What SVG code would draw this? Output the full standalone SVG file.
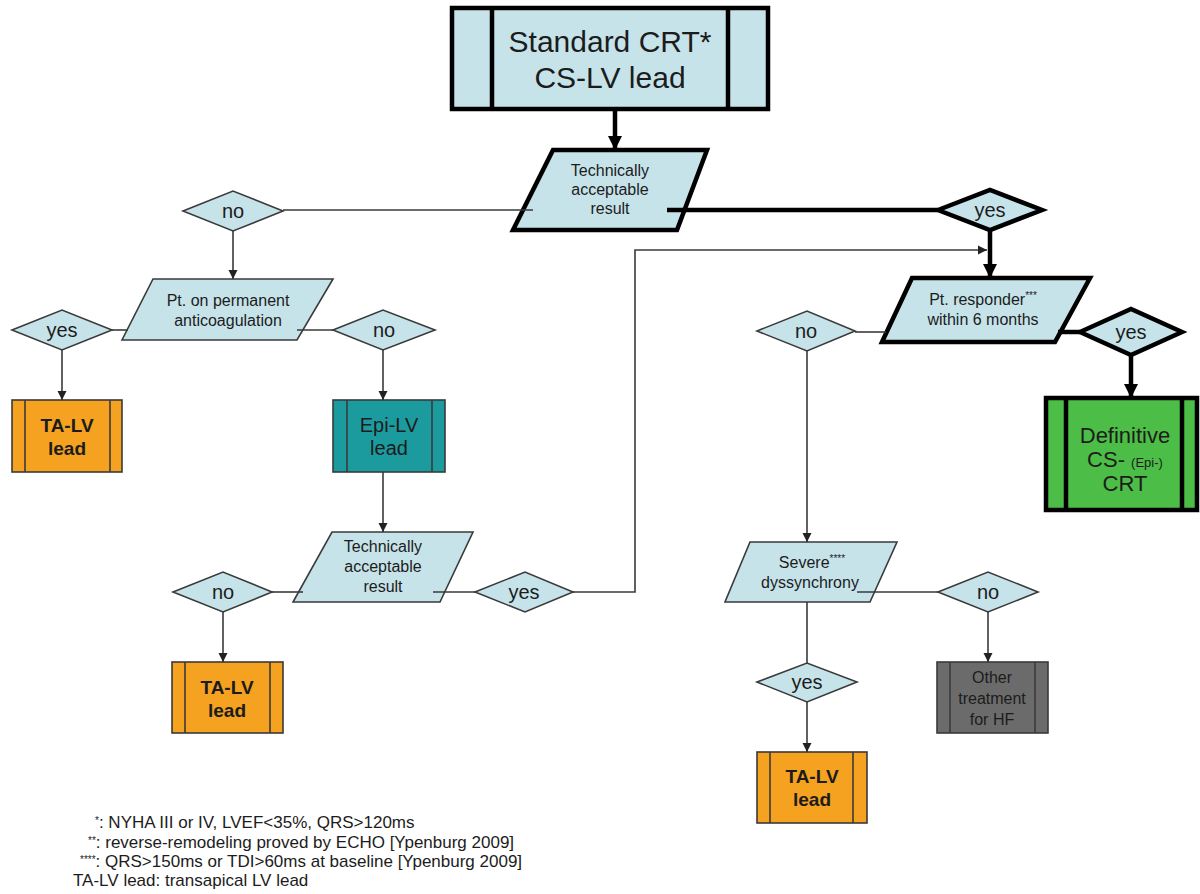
<svg xmlns="http://www.w3.org/2000/svg" width="1200" height="894" viewBox="0 0 1200 894">
<defs>
<style>
text{font-family:"Liberation Sans",Arial,sans-serif;fill:#1c1c1c;text-anchor:middle}
.lb{fill:#c6e3ea}
.thin{stroke:#3a3a3a;stroke-width:1.6}
.thick{stroke:#000;stroke-width:4.5}
.wire{fill:none;stroke:#3a3a3a;stroke-width:1.6}
.wireb{fill:none;stroke:#000;stroke-width:4.5}
.p{font-size:16px}
.d{font-size:20px}
.bx{font-size:19px;font-weight:bold}
.fn{font-size:17px;text-anchor:start}
.sup{font-size:10px;fill:#1c1c1c}
</style>
<marker id="ah" viewBox="0 0 10 10" refX="10" refY="5" markerWidth="9" markerHeight="10" markerUnits="userSpaceOnUse" orient="auto"><path d="M0,0 L10,5 L0,10 z" fill="#222"/></marker>
<marker id="ahb" viewBox="0 0 10 10" refX="10" refY="5" markerWidth="14" markerHeight="16" markerUnits="userSpaceOnUse" orient="auto"><path d="M0,0 L10,5 L0,10 z" fill="#000"/></marker>
</defs>
<rect width="1200" height="894" fill="#fff"/>

<g id="start">
<rect x="452" y="8" width="316" height="101" class="lb thick"/>
<line x1="492" y1="8" x2="492" y2="109" class="thick"/>
<line x1="728" y1="8" x2="728" y2="109" class="thick"/>
<text x="610" y="52" font-size="30">Standard CRT*</text>
<text x="610" y="88" font-size="30">CS-LV lead</text>
</g>

<g id="tech1">
<polygon points="553,150 707,150 677,230 513,230" class="lb thick"/>
<text class="p" x="610" y="176">Technically</text>
<text class="p" x="610" y="195">acceptable</text>
<text class="p" x="610" y="214">result</text>
</g>

<g id="no1">
<polygon points="183,211 233,191 283,211 233,231" class="lb thin"/>
<text class="d" x="233" y="218">no</text>
</g>

<g id="yes1">
<polygon points="938,210 990,190 1042,210 990,230" class="lb thick"/>
<text class="d" x="990" y="217">yes</text>
</g>

<g id="anticoag">
<polygon points="153,279 333,279 297,340 122,340" class="lb thin"/>
<text class="p" x="228" y="306">Pt. on permanent</text>
<text class="p" x="228" y="326">anticoagulation</text>
</g>

<g id="yes2">
<polygon points="12,330 62,310 112,330 62,350" class="lb thin"/>
<text class="d" x="62" y="337">yes</text>
</g>

<g id="no2">
<polygon points="333,330 383,310 435,330 383,350" class="lb thin"/>
<text class="d" x="384" y="337">no</text>
</g>

<g id="talv1">
<rect x="12" y="400" width="110" height="72" fill="#f4a21f" class="thin"/>
<line x1="25" y1="400" x2="25" y2="472" class="thin"/>
<line x1="110" y1="400" x2="110" y2="472" class="thin"/>
<text class="bx" x="67" y="432">TA-LV</text>
<text class="bx" x="67" y="455">lead</text>
</g>

<g id="epilv">
<rect x="333" y="400" width="112" height="72" fill="#1c9b9f" class="thin"/>
<line x1="347" y1="400" x2="347" y2="472" class="thin"/>
<line x1="432" y1="400" x2="432" y2="472" class="thin"/>
<text x="389" y="432" font-size="20">Epi-LV</text>
<text x="389" y="455" font-size="20">lead</text>
</g>

<g id="tech2">
<polygon points="332,532 473,532 440,602 293,602" class="lb thin"/>
<text class="p" x="383" y="552">Technically</text>
<text class="p" x="383" y="572">acceptable</text>
<text class="p" x="383" y="592">result</text>
</g>

<g id="no3">
<polygon points="173,592 223,572 272,592 223,612" class="lb thin"/>
<text class="d" x="223" y="599">no</text>
</g>

<g id="yes3">
<polygon points="475,592 525,572 573,592 525,612" class="lb thin"/>
<text class="d" x="524" y="599">yes</text>
</g>

<g id="talv2">
<rect x="172" y="662" width="111" height="71" fill="#f4a21f" class="thin"/>
<line x1="185" y1="662" x2="185" y2="733" class="thin"/>
<line x1="270" y1="662" x2="270" y2="733" class="thin"/>
<text class="bx" x="227" y="694">TA-LV</text>
<text class="bx" x="227" y="717">lead</text>
</g>

<g id="responder">
<polygon points="912,278 1090,278 1055,342 882,342" class="lb thick"/>
<text class="p" x="983" y="305">Pt. responder<tspan class="sup" dy="-6">***</tspan></text>
<text class="p" x="983" y="325">within 6 months</text>
</g>

<g id="no4">
<polygon points="757,331 807,311 855,331 807,351" class="lb thin"/>
<text class="d" x="806" y="338">no</text>
</g>

<g id="yes4">
<polygon points="1080,332 1131,309 1182,332 1131,355" class="lb thick"/>
<text class="d" x="1131" y="339">yes</text>
</g>

<g id="definitive">
<rect x="1046" y="398" width="151" height="112" fill="#4cbd46" class="thick"/>
<line x1="1066" y1="398" x2="1066" y2="510" class="thick"/>
<line x1="1182" y1="398" x2="1182" y2="510" class="thick"/>
<text x="1125" y="443" font-size="22">Definitive</text>
<text x="1125" y="467" font-size="22">CS- <tspan font-size="13">(Epi-)</tspan></text>
<text x="1125" y="491" font-size="22">CRT</text>
</g>

<g id="severe">
<polygon points="750,542 897,542 870,602 725,602" class="lb thin"/>
<text class="p" x="812" y="568">Severe<tspan class="sup" dy="-6">****</tspan></text>
<text class="p" x="810" y="588">dyssynchrony</text>
</g>

<g id="no5">
<polygon points="938,592 988,572 1038,592 988,612" class="lb thin"/>
<text class="d" x="988" y="599">no</text>
</g>

<g id="yes5">
<polygon points="757,682 807,663 857,682 807,702" class="lb thin"/>
<text class="d" x="807" y="689">yes</text>
</g>

<g id="other">
<rect x="937" y="662" width="111" height="71" fill="#6b6b6b" class="thin"/>
<line x1="950" y1="662" x2="950" y2="733" class="thin"/>
<line x1="1035" y1="662" x2="1035" y2="733" class="thin"/>
<text x="992" y="683" font-size="16">Other</text>
<text x="992" y="704" font-size="16">treatment</text>
<text x="992" y="725" font-size="16">for HF</text>
</g>

<g id="talv3">
<rect x="757" y="752" width="110" height="71" fill="#f4a21f" class="thin"/>
<line x1="770" y1="752" x2="770" y2="823" class="thin"/>
<line x1="853" y1="752" x2="853" y2="823" class="thin"/>
<text class="bx" x="812" y="783">TA-LV</text>
<text class="bx" x="812" y="806">lead</text>
</g>

<g id="connectors">
<path class="wireb" d="M615,110 L615,150" marker-end="url(#ahb)"/>
<path class="wire" d="M533,210 L283,210"/>
<path class="wire" d="M233,231 L233,279" marker-end="url(#ah)"/>
<path class="wireb" d="M667,210 L938,210"/>
<path class="wireb" d="M990,230 L990,278" marker-end="url(#ahb)"/>
<path class="wire" d="M128,330 L112,330"/>
<path class="wire" d="M297,330 L333,330"/>
<path class="wire" d="M62,350 L62,400" marker-end="url(#ah)"/>
<path class="wire" d="M383,350 L383,400" marker-end="url(#ah)"/>
<path class="wire" d="M383,472 L383,532" marker-end="url(#ah)"/>
<path class="wire" d="M303,592 L272,592"/>
<path class="wire" d="M223,612 L223,662" marker-end="url(#ah)"/>
<path class="wire" d="M433,592 L475,592"/>
<path class="wire" d="M573,592 L635,592 L635,250 L987,250" marker-end="url(#ah)"/>
<path class="wire" d="M886,332 L855,332"/>
<path class="wireb" d="M1058,332 L1080,332"/>
<path class="wireb" d="M1131,355 L1131,398" marker-end="url(#ahb)"/>
<path class="wire" d="M807,351 L807,542" marker-end="url(#ah)"/>
<path class="wire" d="M857,592 L938,592"/>
<path class="wire" d="M988,612 L988,662" marker-end="url(#ah)"/>
<path class="wire" d="M807,602 L807,663"/>
<path class="wire" d="M807,702 L807,752" marker-end="url(#ah)"/>
</g>

<g id="footnotes">
<text class="fn" x="95" y="828"><tspan class="sup" dy="-4">*</tspan><tspan dy="4">: NYHA III or IV, LVEF&lt;35%, QRS&gt;120ms</tspan></text>
<text class="fn" x="88" y="848"><tspan class="sup" dy="-4">**</tspan><tspan dy="4">: reverse-remodeling proved by ECHO [Ypenburg 2009]</tspan></text>
<text class="fn" x="80" y="867"><tspan class="sup" dy="-4">****</tspan><tspan dy="4">: QRS&gt;150ms or TDI&gt;60ms at baseline [Ypenburg 2009]</tspan></text>
<text class="fn" x="73" y="886">TA-LV lead: transapical LV lead</text>
</g>
</svg>
